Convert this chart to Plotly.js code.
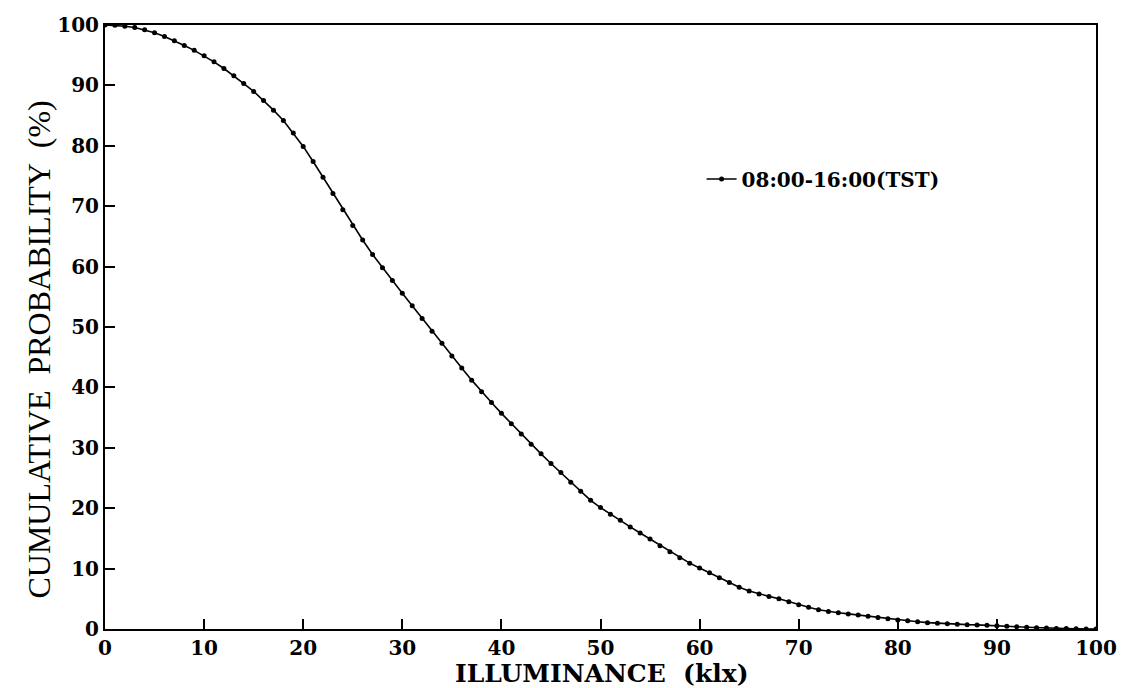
<!DOCTYPE html>
<html>
<head>
<meta charset="utf-8">
<script src="https://cdn.plot.ly/plotly-3.0.1.min.js"></script>
<style>html,body{margin:0;padding:0;background:#fff;}#chart{width:1134px;height:688px;}</style>
</head>
<body>
<div id="chart"></div>
<script>
const illuminance = [0,1,2,3,4,5,6,7,8,9,10,11,12,13,14,15,16,17,18,19,20,21,22,23,24,25,26,27,28,29,30,31,32,33,34,35,36,37,38,39,40,41,42,43,44,45,46,47,48,49,50,51,52,53,54,55,56,57,58,59,60,61,62,63,64,65,66,67,68,69,70,71,72,73,74,75,76,77,78,79,80,81,82,83,84,85,86,87,88,89,90,91,92,93,94,95,96,97,98,99,100];
const cumulativeProbability = [100,99.95,99.8,99.6,99.2,98.7,98.1,97.4,96.6,95.8,94.9,93.9,92.8,91.6,90.3,89.0,87.5,85.9,84.2,82.1,79.9,77.4,74.8,72.1,69.4,66.8,64.4,62.0,59.8,57.7,55.6,53.5,51.4,49.3,47.3,45.2,43.2,41.2,39.3,37.5,35.7,34.0,32.3,30.6,29.0,27.4,25.9,24.3,22.8,21.3,20.1,19.0,18.0,16.9,15.9,14.9,13.8,12.8,11.8,10.9,10.1,9.3,8.5,7.7,6.9,6.3,5.8,5.4,5.0,4.5,4.0,3.6,3.2,2.9,2.7,2.5,2.3,2.1,1.9,1.7,1.5,1.35,1.2,1.05,0.95,0.85,0.78,0.72,0.68,0.63,0.55,0.45,0.38,0.3,0.22,0.15,0.1,0.07,0.04,0.02,0];
const seriesName = "08:00-16:00(TST)";
const xTicks = [0,10,20,30,40,50,60,70,80,90,100];
const yTicks = [0,10,20,30,40,50,60,70,80,90,100];
const xTitle = "ILLUMINANCE  (klx)";
const yTitle = "CUMULATIVE  PROBABILITY  (%)";

const tickFont = {family: "DejaVu Serif", size: 20, color: "#000", weight: "bold"};

const trace = {
  x: illuminance,
  y: cumulativeProbability,
  name: seriesName,
  mode: "lines+markers",
  line: {color: "#000", width: 1.6},
  marker: {color: "#000", size: 5, symbol: "circle"},
  showlegend: true
};

const layout = {
  width: 1134, height: 688,
  margin: {l: 105, r: 38, t: 25, b: 59, pad: 0},
  paper_bgcolor: "#fff", plot_bgcolor: "#fff",
  showlegend: true,
  legend: {x: 0.602, y: 0.745, xanchor: "left", yanchor: "middle", bgcolor: "rgba(0,0,0,0)",
           font: {family: "DejaVu Serif", size: 20, color: "#000", weight: "bold"}},
  xaxis: {
    range: [0, 100], tickvals: xTicks, ticktext: xTicks.map(String),
    ticks: "inside", ticklen: 10, tickwidth: 2, tickcolor: "#000",
    showline: true, linecolor: "#000", linewidth: 2, mirror: true,
    showgrid: false, zeroline: false,
    tickfont: tickFont,
    title: {text: ""}
  },
  yaxis: {
    range: [0, 100], tickvals: yTicks, ticktext: yTicks.map(String),
    ticks: "inside", ticklen: 10, tickwidth: 2, tickcolor: "#000",
    showline: true, linecolor: "#000", linewidth: 2, mirror: true,
    showgrid: false, zeroline: false,
    tickfont: tickFont,
    title: {text: ""}
  },
  annotations: [
    {text: xTitle, xref: "paper", yref: "paper", x: 0.502, y: -0.074, xanchor: "center", yanchor: "middle",
     showarrow: false, font: {family: "DejaVu Serif", size: 25, color: "#000", weight: "bold"}},
    {text: yTitle, xref: "paper", yref: "paper", x: -0.067, y: 0.462, xanchor: "center", yanchor: "middle",
     textangle: -90, showarrow: false, font: {family: "Liberation Serif", size: 32, color: "#000"}}
  ]
};

Plotly.newPlot("chart", [trace], layout, {displayModeBar: false, staticPlot: true});
</script>
</body>
</html>
